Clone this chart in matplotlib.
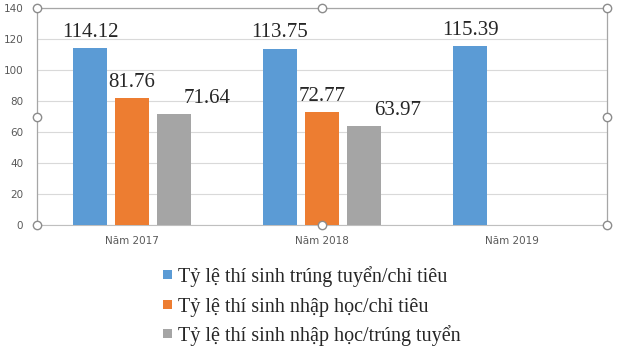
import matplotlib.pyplot as plt
import numpy as np
from matplotlib.patches import Rectangle

categories = ['Năm 2017', 'Năm 2018', 'Năm 2019']
series_names = ['Tỷ lệ thí sinh trúng tuyển/chỉ tiêu',
                'Tỷ lệ thí sinh nhập học/chỉ tiêu',
                'Tỷ lệ thí sinh nhập học/trúng tuyển']
trung_tuyen = [114.12, 113.75, 115.39]
nhap_hoc_ct = [81.76, 72.77, None]
nhap_hoc_tt = [71.64, 63.97, None]
colors = ['#5b9bd5', '#ed7d31', '#a5a5a5']

W, H = 620, 355
L, R, T, B = 37, 607, 8, 225

fig = plt.figure(figsize=(6.2, 3.55), dpi=100)
ax = fig.add_axes([L / W, 1 - B / H, (R - L) / W, (B - T) / H])

x = np.arange(len(categories))
width = 0.174
step = 0.221
for k, (vals, col) in enumerate(zip([trung_tuyen, nhap_hoc_ct, nhap_hoc_tt], colors)):
    for i, v in enumerate(vals):
        if v is None:
            continue
        xi = x[i] + (k - 1) * step
        ax.bar(xi, v, width, color=col, zorder=3)
        if k == 2:
            # Excel pushed these labels to the right of the bar
            ax.text(xi + width / 2 - 0.035, v + 4, f'{v:.2f}', ha='left', va='bottom',
                    family='Liberation Serif', fontsize=15, color='#262626', zorder=4)
        else:
            ax.text(xi, v + 4, f'{v:.2f}', ha='center', va='bottom',
                    family='Liberation Serif', fontsize=15, color='#262626', zorder=4)

ax.set_xlim(-0.5, 2.5)
ax.set_ylim(0, 140)
ax.set_yticks(range(0, 141, 20))
ax.set_xticks(x)
ax.set_xticklabels(categories)
ax.tick_params(axis='both', length=0, labelsize=7.5, labelcolor='#595959')
ax.tick_params(axis='y', pad=10)
ax.tick_params(axis='x', pad=8)
ax.grid(axis='y', color='#d9d9d9', linewidth=0.8, zorder=0)
for s in ['top', 'right', 'left']:
    ax.spines[s].set_visible(False)
ax.spines['bottom'].set_color('#bfbfbf')

# chart frame and selection handles
for xs, ys in [((L, R), (T, T)), ((L, L), (T, B)), ((R, R), (T, B))]:
    fig.add_artist(plt.Line2D([v / W for v in xs], [1 - v / H for v in ys],
                              color='#a6a6a6', linewidth=0.9))
mid_x = (L + R) / 2
mid_y = (T + B) / 2
handles_px = [(L, T), (L, mid_y), (L, B), (mid_x, T), (R, T), (R, mid_y),
              (R, B), (mid_x, B)]
for hx, hy in handles_px:
    fig.add_artist(plt.Line2D([hx / W], [1 - hy / H], marker='o', markersize=6,
                              markerfacecolor='white', markeredgecolor='#8c8c8c',
                              markeredgewidth=1.0))

# legend (baselines in pixels)
leg_base = [282, 312, 341]
for name, col, lb in zip(series_names, colors, leg_base):
    fig.add_artist(Rectangle((163 / W, 1 - (lb - 3) / H), 9 / W, 9 / H,
                             facecolor=col, edgecolor='none',
                             transform=fig.transFigure))
    fig.text(178 / W, 1 - lb / H, name, color='#262626', fontsize=14.5,
             ha='left', va='baseline', family='Liberation Serif')

fig.savefig('out.png', dpi=100, facecolor='white')
